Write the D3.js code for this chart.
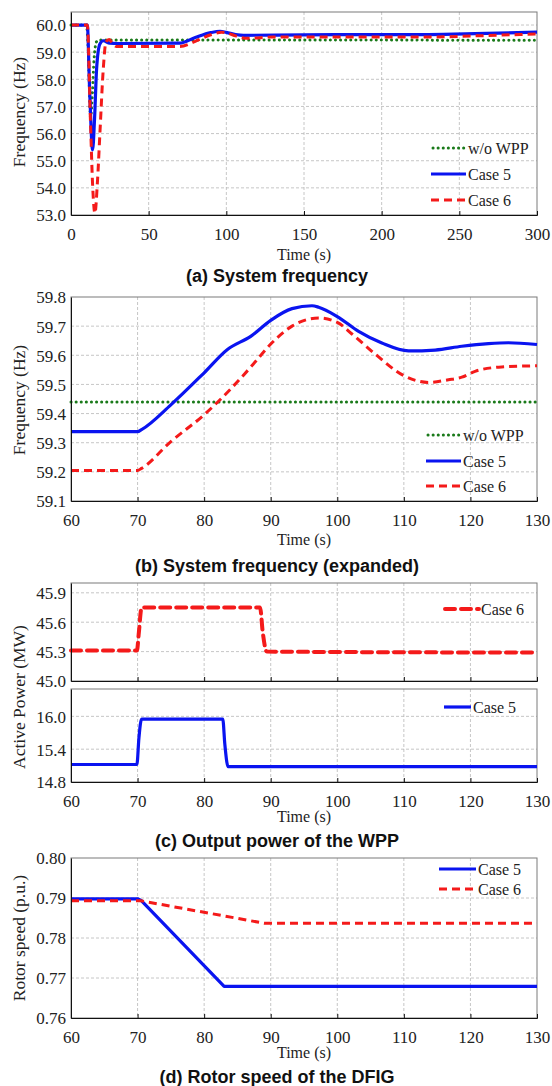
<!DOCTYPE html>
<html>
<head>
<meta charset="utf-8">
<script src="https://cdn.jsdelivr.net/npm/d3@7"></script>
<style>
  body { margin: 0; background: #fff; }
  .lbl { font-family: "Liberation Serif", "Times New Roman", serif; font-size: 16px; fill: #222; }
  .ylbl { font-size: 17.5px; }
  .title { font-family: "Liberation Sans", Arial, sans-serif; font-size: 18px; font-weight: bold; fill: #111; }
</style>
</head>
<body>
<script>
  /* DATA */
  // (a) System frequency, 0-300 s
  var aNoWpp = [[0, 60], [10, 60], [11, 59.2], [12.6, 56.6], [13.8, 57.5], [14.8, 58.7], [16.5, 59.39], [18.6, 59.45], [300, 59.44]];
  var aCase5 = [[0, 60], [10.5, 60], [12, 57.6], [13.9, 55.4], [15.2, 56.6], [16.5, 58.4], [18.6, 59.3], [20.8, 59.42], [25, 59.33], [30, 59.32], [70, 59.33], [80, 59.54], [90, 59.72], [96, 59.77], [100, 59.73], [106, 59.65], [111, 59.62], [150, 59.64], [230, 59.65], [260, 59.68], [300, 59.74]];
  var aCase6 = [[0, 60], [10.5, 60], [12.5, 56.5], [14, 54.0], [15.4, 53.06], [17, 54.2], [18.6, 56.0], [20.8, 58.4], [22.5, 59.38], [24.6, 59.47], [27, 59.3], [29.3, 59.21], [70, 59.21], [80, 59.4], [90, 59.64], [97, 59.73], [100, 59.71], [106, 59.6], [110, 59.53], [114, 59.51], [130, 59.56], [230, 59.56], [260, 59.6], [300, 59.67]];

  // (b) System frequency (expanded), 60-130 s
  var bNoWpp = [[60, 59.44], [130, 59.44]];
  var bCase5 = [[60, 59.338], [70, 59.338], [70.6, 59.345], [75, 59.43], [80, 59.54], [83.5, 59.62], [87, 59.665], [90, 59.72], [93.2, 59.76], [96.2, 59.77], [97.2, 59.765], [100, 59.733], [103.2, 59.682], [106.7, 59.642], [110.7, 59.615], [114.7, 59.618], [118.7, 59.631], [122.7, 59.64], [125.7, 59.643], [130, 59.637]];
  var bCase6 = [[60, 59.205], [70, 59.205], [70.6, 59.212], [75, 59.304], [80, 59.396], [83.8, 59.48], [87.4, 59.57], [89.9, 59.636], [93.2, 59.7], [97.2, 59.728], [100, 59.713], [102.2, 59.673], [105.7, 59.604], [110, 59.53], [113.7, 59.507], [116.7, 59.516], [118.7, 59.525], [120.7, 59.545], [124.7, 59.56], [130, 59.564]];

  // (c) Output power of the WPP
  var cCase6 = [[60, 45.31], [69.9, 45.31], [70.2, 45.5], [70.6, 45.75], [88.4, 45.75], [88.8, 45.5], [89.4, 45.3], [130, 45.29]];
  var cCase5 = [[60, 15.12], [69.9, 15.12], [70.2, 15.6], [70.6, 15.95], [82.8, 15.95], [83.1, 15.5], [83.6, 15.08], [130, 15.08]];

  // (d) Rotor speed of the DFIG
  var dCase5 = [[60, 0.7898], [70, 0.7898], [70.6, 0.7893], [83, 0.7679], [130, 0.7679]];
  var dCase6 = [[60, 0.7893], [70.5, 0.7893], [89, 0.7837], [130, 0.7837]];

  var aTicksX = [0, 50, 100, 150, 200, 250, 300];
  var aTicksY = [53, 54, 55, 56, 57, 58, 59, 60];
  var bTicksX = [60, 70, 80, 90, 100, 110, 120, 130];
  var bTicksY = [59.1, 59.2, 59.3, 59.4, 59.5, 59.6, 59.7, 59.8];
  var cTopTicksY = [45.0, 45.3, 45.6, 45.9];
  var cBotTicksY = [14.8, 15.4, 16.0];
  var dTicksY = [0.76, 0.77, 0.78, 0.79, 0.80];

  /* STYLES */
  var styles = {
    nowpp: { color: "#1a7a1a", dash: "0.1,5", width: 3, cap: "round" },
    case5: { color: "#0a14f0", dash: null, width: 3.2, cap: "butt" },
    case6: { color: "#f41a1a", dash: "8,5", width: 3, cap: "butt" },
    case6c: { color: "#f41a1a", dash: "10,6", width: 4, cap: "round" }
  };

  var width = 552, height = 1086;
  var L = 71, R = 537;
  var serif = "'Liberation Serif', 'Times New Roman', serif";

  var svg = d3.select("body").append("svg")
    .attr("width", width)
    .attr("height", height);

  function panel(o) {
    var x = d3.scaleLinear().domain(o.xd).range([L, R]);
    var y = d3.scaleLinear().domain(o.yd).range([o.bottom, o.top]);
    var g = svg.append("g");

    // grid
    g.append("g").selectAll("line").data(o.xt.slice(1, -1)).enter().append("line")
      .attr("x1", d => x(d)).attr("x2", d => x(d))
      .attr("y1", o.top).attr("y2", o.bottom)
      .attr("stroke", "#b8b8b8").attr("stroke-dasharray", "3,2").attr("stroke-width", 0.8);
    g.append("g").selectAll("line").data(o.yt.filter(d => y(d) < o.bottom - 1 && y(d) > o.top + 1)).enter().append("line")
      .attr("x1", L).attr("x2", R)
      .attr("y1", d => y(d)).attr("y2", d => y(d))
      .attr("stroke", "#b8b8b8").attr("stroke-dasharray", "3,2").attr("stroke-width", 0.8);

    // frame
    g.append("rect").attr("x", L).attr("y", o.top).attr("width", R - L).attr("height", o.bottom - o.top)
      .attr("fill", "none").attr("stroke", "#7a7a7a").attr("stroke-width", 1);

    // series
    o.series.forEach(function(s) {
      var st = styles[s.style];
      var line = d3.line().x(d => x(d[0])).y(d => y(d[1])).curve(s.curve || d3.curveMonotoneX);
      g.append("path").datum(s.data)
        .attr("fill", "none")
        .attr("stroke", st.color)
        .attr("stroke-width", st.width)
        .attr("stroke-linecap", st.cap)
        .attr("stroke-linejoin", "round")
        .attr("stroke-dasharray", st.dash)
        .attr("d", line);
    });

    // axes
    var yAxis = d3.axisLeft(y).tickValues(o.yt).tickFormat(d3.format(o.yf)).tickSize(0).tickPadding(5);
    var ya = g.append("g").attr("transform", `translate(${L},0)`).call(yAxis)
      .attr("font-family", serif).attr("font-size", 17);
    ya.select(".domain").attr("stroke", "#111");
    ya.selectAll("text").attr("dy", "0.35em").attr("fill", "#222");

    var xa = g.append("g").attr("transform", `translate(0,${o.bottom})`)
      .call(d3.axisBottom(x).tickValues(o.xt).tickSize(-4).tickPadding(o.showX ? 13 : 0))
      .attr("font-family", serif).attr("font-size", 17);
    xa.select(".domain").attr("stroke", "#111");
    xa.selectAll(".tick line").attr("stroke", "#111");
    xa.selectAll("text").attr("fill", "#222");
    if (!o.showX) xa.selectAll("text").remove();

    // legend
    (o.legend || []).forEach(function(l) {
      var st = styles[l.style];
      g.append("line")
        .attr("x1", l.x1).attr("x2", l.x2).attr("y1", l.y).attr("y2", l.y)
        .attr("stroke", st.color).attr("stroke-width", st.width)
        .attr("stroke-linecap", st.cap).attr("stroke-dasharray", st.dash);
      g.append("text").attr("class", "lbl")
        .attr("x", l.x2 + 2).attr("y", l.y + 5.5).text(l.text);
    });
    return g;
  }

  function yLabel(text, cy) {
    svg.append("text").attr("class", "lbl ylbl")
      .attr("transform", `translate(25,${cy}) rotate(-90)`)
      .attr("text-anchor", "middle").text(text);
  }
  function xLabel(y0) {
    svg.append("text").attr("class", "lbl").attr("x", (L + R) / 2).attr("y", y0)
      .attr("text-anchor", "middle").text("Time (s)");
  }
  function title(text, y0) {
    svg.append("text").attr("class", "title").attr("x", 277).attr("y", y0)
      .attr("text-anchor", "middle").text(text);
  }

  // (a)
  panel({
    xd: [0, 300], yd: [53, 60.48], top: 12, bottom: 215, xt: aTicksX, yt: aTicksY, yf: ".1f", showX: true,
    series: [
      { data: aNoWpp, style: "nowpp" },
      { data: aCase5, style: "case5" },
      { data: aCase6, style: "case6" }
    ],
    legend: [
      { text: "w/o WPP", style: "nowpp", x1: 433, x2: 466, y: 148 },
      { text: "Case 5", style: "case5", x1: 431, x2: 466, y: 174 },
      { text: "Case 6", style: "case6", x1: 431, x2: 466, y: 200 }
    ]
  });
  yLabel("Frequency (Hz)", 112);
  xLabel(260);
  title("(a) System frequency", 282);

  // (b)
  panel({
    xd: [60, 130], yd: [59.1, 59.8], top: 297, bottom: 501, xt: bTicksX, yt: bTicksY, yf: ".1f", showX: true,
    series: [
      { data: bNoWpp, style: "nowpp" },
      { data: bCase5, style: "case5" },
      { data: bCase6, style: "case6" }
    ],
    legend: [
      { text: "w/o WPP", style: "nowpp", x1: 428, x2: 461, y: 435 },
      { text: "Case 5", style: "case5", x1: 426, x2: 461, y: 461 },
      { text: "Case 6", style: "case6", x1: 426, x2: 461, y: 486 }
    ]
  });
  yLabel("Frequency (Hz)", 400);
  xLabel(545);
  title("(b) System frequency (expanded)", 572);

  // (c)
  panel({
    xd: [60, 130], yd: [45, 46], top: 583, bottom: 681, xt: bTicksX, yt: cTopTicksY, yf: ".1f", showX: false,
    series: [{ data: cCase6, style: "case6c" }],
    legend: [{ text: "Case 6", style: "case6c", x1: 445, x2: 479, y: 609 }]
  });
  panel({
    xd: [60, 130], yd: [14.8, 16.5], top: 689, bottom: 782, xt: bTicksX, yt: cBotTicksY, yf: ".1f", showX: true,
    series: [{ data: cCase5, style: "case5" }],
    legend: [{ text: "Case 5", style: "case5", x1: 444, x2: 471, y: 707 }]
  });
  yLabel("Active Power (MW)", 697);
  xLabel(822);
  title("(c) Output power of the WPP", 847);

  // (d)
  panel({
    xd: [60, 130], yd: [0.76, 0.80], top: 858, bottom: 1018, xt: bTicksX, yt: dTicksY, yf: ".2f", showX: true,
    series: [
      { data: dCase5, style: "case5", curve: d3.curveLinear },
      { data: dCase6, style: "case6", curve: d3.curveLinear }
    ],
    legend: [
      { text: "Case 5", style: "case5", x1: 439, x2: 476, y: 869 },
      { text: "Case 6", style: "case6", x1: 439, x2: 476, y: 889 }
    ]
  });
  yLabel("Rotor speed (p.u.)", 938);
  xLabel(1058);
  title("(d) Rotor speed of the DFIG", 1083);
</script>
</body>
</html>
